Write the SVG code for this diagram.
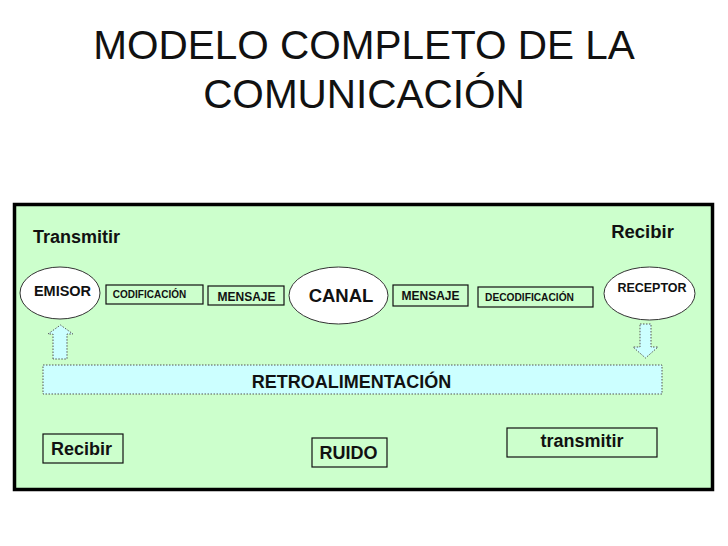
<svg xmlns="http://www.w3.org/2000/svg" width="728" height="546" viewBox="0 0 728 546">
<style>
text{font-family:"Liberation Sans",Arial,sans-serif;font-weight:bold;fill:#111;text-anchor:middle}
.title{font-weight:normal;font-size:40.5px;fill:#111}
.box{fill:none;stroke:#111;stroke-width:1.2}
.ell{fill:#fff;stroke:#333;stroke-width:1}
.dot{fill:#ccffff;stroke:#555;stroke-width:1;stroke-dasharray:1.5 1.5}
</style>
<rect width="728" height="546" fill="#fff"/>
<g id="title">
<text class="title" x="364" y="59">MODELO COMPLETO DE LA</text>
<text class="title" x="364" y="108">COMUNICACIÓN</text>
</g>
<g id="frame">
<rect x="14.5" y="204.5" width="698" height="285" fill="#ccffcc" stroke="#000" stroke-width="3.5"/>
</g>
<g id="transmitir-top"><text x="76.5" y="243" font-size="18">Transmitir</text></g>
<g id="recibir-top"><text x="642.5" y="238" font-size="18.5">Recibir</text></g>
<g id="emisor">
<ellipse class="ell" cx="60" cy="293" rx="40" ry="26"/>
<text x="62.5" y="296" font-size="14.5">EMISOR</text>
</g>
<g id="codificacion">
<rect class="box" x="106" y="285" width="97" height="19"/>
<text x="149.5" y="298" font-size="10">CODIFICACIÓN</text>
</g>
<g id="mensaje1">
<rect class="box" x="208" y="286" width="76" height="19"/>
<text x="246.5" y="301" font-size="12">MENSAJE</text>
</g>
<g id="canal">
<ellipse class="ell" cx="338.5" cy="295.5" rx="49.5" ry="28.5"/>
<text x="341" y="302" font-size="18.5">CANAL</text>
</g>
<g id="mensaje2">
<rect class="box" x="393" y="285" width="75" height="21"/>
<text x="430.5" y="300" font-size="12">MENSAJE</text>
</g>
<g id="decodificacion">
<rect class="box" x="478" y="287" width="115" height="20"/>
<text x="529.5" y="301" font-size="10.2">DECODIFICACIÓN</text>
</g>
<g id="receptor">
<ellipse class="ell" cx="649.5" cy="293.5" rx="45.5" ry="26.5"/>
<text x="652" y="292" font-size="12.5">RECEPTOR</text>
</g>
<g id="connectors">
<path class="dot" d="M53,359 L53,334 L48,334 L60.5,325 L73,334 L67,334 L67,359 Z"/>
<path class="dot" d="M640,324 L651,324 L651,347 L658,347 L645.5,358 L633,347 L640,347 Z"/>
</g>
<g id="retroalimentacion">
<rect class="dot" x="43" y="365" width="619" height="29"/>
<text x="351.5" y="388" font-size="18">RETROALIMENTACIÓN</text>
</g>
<g id="recibir-bottom">
<rect class="box" x="43" y="434" width="80" height="29"/>
<text x="81.5" y="455" font-size="18">Recibir</text>
</g>
<g id="ruido">
<rect class="box" x="312" y="438" width="75" height="29"/>
<text x="348.5" y="459" font-size="18">RUIDO</text>
</g>
<g id="transmitir-bottom">
<rect class="box" x="507" y="428" width="150" height="29"/>
<text x="582" y="447" font-size="18">transmitir</text>
</g>
</svg>
